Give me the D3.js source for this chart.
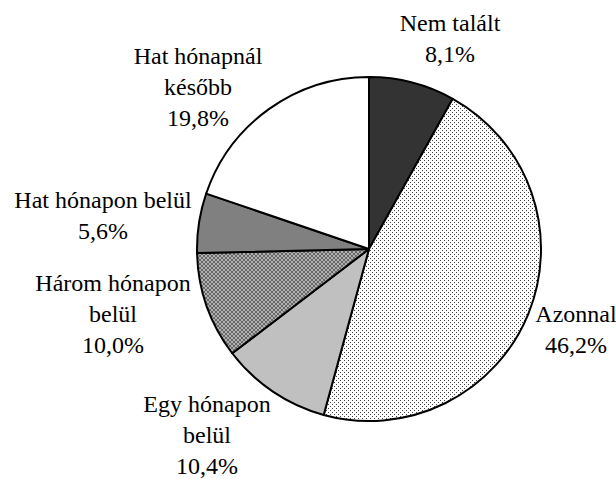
<!DOCTYPE html>
<html>
<head>
<meta charset="utf-8">
<script src="https://cdn.jsdelivr.net/npm/d3@7"></script>
<style>
  body { margin: 0; background: #fff; }
</style>
</head>
<body>
<svg id="chart" width="616" height="479"></svg>
<script>
// slice data, clockwise from 12 o'clock
const categories = ["Nem talált", "Azonnal", "Egy hónapon belül", "Három hónapon belül", "Hat hónapon belül", "Hat hónapnál később"];
const values = [8.1, 46.2, 10.4, 10.0, 5.6, 19.8];
const valueLabels = ["8,1%", "46,2%", "10,4%", "10,0%", "5,6%", "19,8%"];
// label lines as they wrap in the original
const labelLines = [
  ["Nem talált"],
  ["Azonnal"],
  ["Egy hónapon", "belül"],
  ["Három hónapon", "belül"],
  ["Hat hónapon belül"],
  ["Hat hónapnál", "később"]
];

const fills = ["#333333", "url(#dots)", "#c0c0c0", "url(#checker)", "#808080", "#ffffff"];
// label anchor (center x, first baseline y)
const labelPos = [[450, 31], [576, 322], [207, 412], [113, 291], [103, 208], [198, 64]];

const svg = d3.select("#chart");
const cx = 369, cy = 249, radius = 172;
const lineH = 31;

// patterns
const defs = svg.append("defs");
const dots = defs.append("pattern")
    .attr("id", "dots")
    .attr("patternUnits", "userSpaceOnUse")
    .attr("width", 4).attr("height", 4);
dots.append("rect").attr("width", 4).attr("height", 4).attr("fill", "#fff");
dots.append("rect").attr("x", 1).attr("y", 1).attr("width", 1).attr("height", 1).attr("fill", "#444");
dots.append("rect").attr("x", 3).attr("y", 3).attr("width", 1).attr("height", 1).attr("fill", "#444");

const checker = defs.append("pattern")
    .attr("id", "checker")
    .attr("patternUnits", "userSpaceOnUse")
    .attr("width", 4).attr("height", 4);
checker.append("rect").attr("width", 4).attr("height", 4).attr("fill", "#b0b0b0");
checker.append("rect").attr("width", 2).attr("height", 2).attr("fill", "#686868");
checker.append("rect").attr("x", 2).attr("y", 2).attr("width", 2).attr("height", 2).attr("fill", "#686868");

const data = categories.map((c, i) => ({ name: c, value: values[i], i: i }));

const pie = d3.pie()
    .sort(null)
    .value(d => d.value);

const arc = d3.arc()
    .innerRadius(0)
    .outerRadius(radius);

const g = svg.append("g")
    .attr("transform", `translate(${cx},${cy})`);

g.selectAll(".slice")
    .data(pie(data))
    .enter()
  .append("path")
    .attr("class", "slice")
    .attr("d", arc)
    .attr("fill", d => fills[d.data.i])
    .attr("stroke", "#000")
    .attr("stroke-width", 2)
    .attr("stroke-linejoin", "round");

// labels
data.forEach((d, i) => {
  const lines = labelLines[i].concat([valueLabels[i]]);
  const t = svg.append("text")
      .attr("text-anchor", "middle")
      .attr("font-family", "'Liberation Serif', 'Times New Roman', serif")
      .attr("font-size", 24)
      .attr("fill", "#000")
      .attr("x", labelPos[i][0])
      .attr("y", labelPos[i][1]);
  lines.forEach((ln, k) => {
    t.append("tspan")
        .attr("x", labelPos[i][0])
        .attr("dy", k === 0 ? 0 : lineH)
        .text(ln);
  });
});
</script>
</body>
</html>
